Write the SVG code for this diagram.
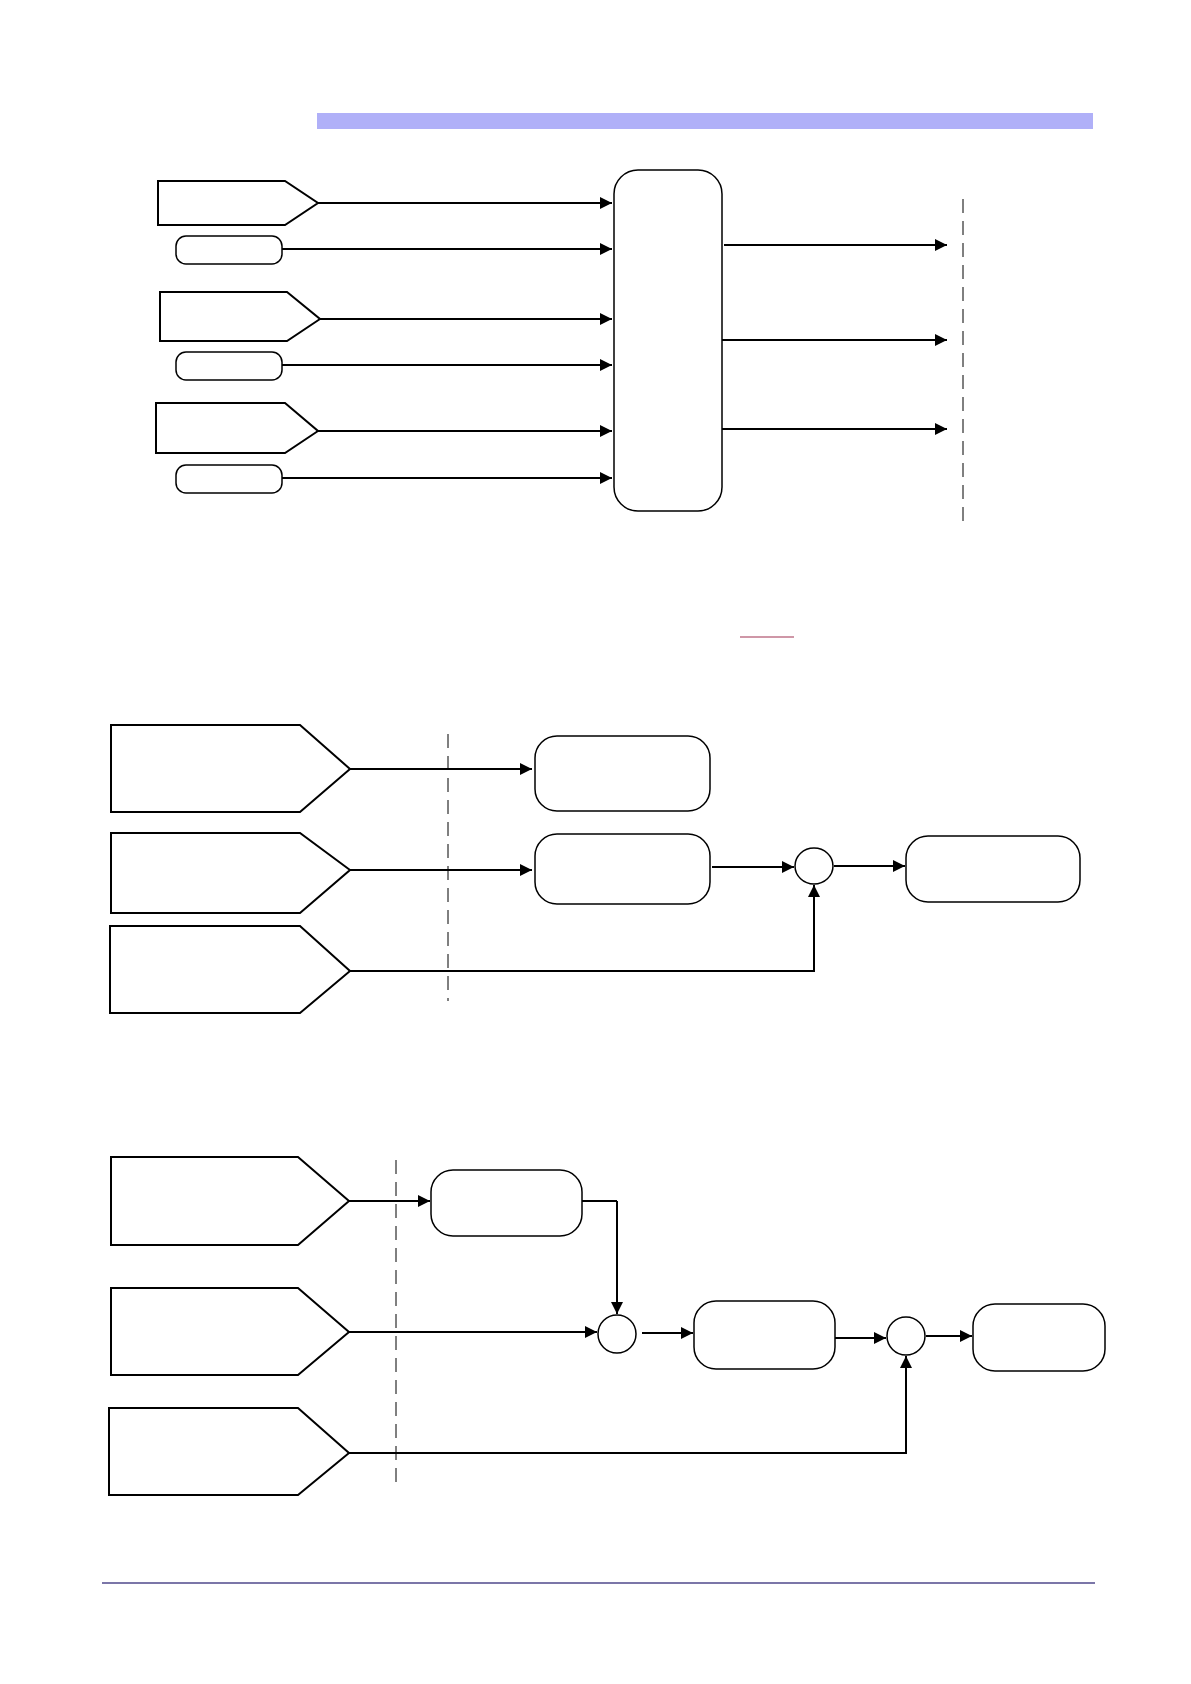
<svg xmlns="http://www.w3.org/2000/svg" width="1191" height="1684" viewBox="0 0 1191 1684">
<style>
.s{fill:#fff;stroke:#000;stroke-width:2}
.t{fill:#fff;stroke:#000;stroke-width:1.5}
.c{fill:none;stroke:#000;stroke-width:2}
.d{fill:none;stroke:#000;stroke-width:1;stroke-dasharray:14,8}
</style>
<defs>
<marker id="a" viewBox="0 0 10 10" refX="10" refY="5" markerWidth="6" markerHeight="6" orient="auto" markerUnits="strokeWidth"><path d="M0,0L10,5L0,10z"/></marker>
</defs>
<rect x="317" y="113" width="776" height="16" fill="#b0b0f8"/>
<g id="p1"><path class="s" d="M158,181H285L318,203L285,225H158Z"/></g>
<g id="r1"><rect class="t" x="176" y="236" width="106" height="28" rx="10"/></g>
<g id="p2"><path class="s" d="M160,292H287L320,319L287,341H160Z"/></g>
<g id="r2"><rect class="t" x="176" y="352" width="106" height="28" rx="10"/></g>
<g id="p3"><path class="s" d="M156,403H285L318,431L285,453H156Z"/></g>
<g id="r3"><rect class="t" x="176" y="465" width="106" height="28" rx="10"/></g>
<g id="big"><rect class="t" x="614" y="170" width="108" height="341" rx="24"/></g>
<g id="pa"><path class="s" d="M111,725H300L350,769L300,812H111Z"/></g>
<g id="pb"><path class="s" d="M111,833H300L350,870L300,913H111Z"/></g>
<g id="pc"><path class="s" d="M110,926H300L350,971L300,1013H110Z"/></g>
<g id="b1"><rect class="t" x="535" y="736" width="175" height="75" rx="22"/></g>
<g id="b2"><rect class="t" x="535" y="834" width="175" height="70" rx="22"/></g>
<g id="o1"><ellipse class="t" cx="814" cy="866" rx="19" ry="18"/></g>
<g id="b3"><rect class="t" x="906" y="836" width="174" height="66" rx="22"/></g>
<g id="pd"><path class="s" d="M111,1157H298L349,1201L298,1245H111Z"/></g>
<g id="pe"><path class="s" d="M111,1288H298L349,1332L298,1375H111Z"/></g>
<g id="pf"><path class="s" d="M109,1408H298L349,1453L298,1495H109Z"/></g>
<g id="bd"><rect class="t" x="431" y="1170" width="151" height="66" rx="22"/></g>
<g id="o2"><ellipse class="t" cx="617" cy="1334" rx="19" ry="19"/></g>
<g id="be"><rect class="t" x="694" y="1301" width="141" height="68" rx="22"/></g>
<g id="o3"><ellipse class="t" cx="906" cy="1336" rx="19" ry="19"/></g>
<g id="bf"><rect class="t" x="973" y="1304" width="132" height="67" rx="22"/></g>
<g id="connectors">
<path class="c" marker-end="url(#a)" d="M318,203H612"/>
<path class="c" marker-end="url(#a)" d="M282,249H612"/>
<path class="c" marker-end="url(#a)" d="M320,319H612"/>
<path class="c" marker-end="url(#a)" d="M282,365H612"/>
<path class="c" marker-end="url(#a)" d="M318,431H612"/>
<path class="c" marker-end="url(#a)" d="M282,478H612"/>
<path class="c" marker-end="url(#a)" d="M724,245H947"/>
<path class="c" marker-end="url(#a)" d="M722,340H947"/>
<path class="c" marker-end="url(#a)" d="M722,429H947"/>
<path class="d" d="M963,199V523"/>
<path class="c" marker-end="url(#a)" d="M350,769H532"/>
<path class="c" marker-end="url(#a)" d="M350,870H532"/>
<path class="c" marker-end="url(#a)" d="M712,867H794"/>
<path class="c" marker-end="url(#a)" d="M834,866H905"/>
<path class="c" d="M350,971H814"/>
<path class="c" stroke-width="1.5" marker-end="url(#a)" d="M814,972V885"/>
<path class="d" d="M448,734V1001"/>
<path class="c" marker-end="url(#a)" d="M349,1201H430"/>
<path class="c" d="M582,1201H617"/>
<path class="c" stroke-width="1.5" marker-end="url(#a)" d="M617,1201V1314"/>
<path class="c" marker-end="url(#a)" d="M349,1332H597"/>
<path class="c" marker-end="url(#a)" d="M642,1333H693"/>
<path class="c" marker-end="url(#a)" d="M835,1338H886"/>
<path class="c" marker-end="url(#a)" d="M926,1336H972"/>
<path class="c" d="M349,1453H906"/>
<path class="c" stroke-width="1.5" marker-end="url(#a)" d="M906,1454V1356"/>
<path class="d" d="M396,1160V1487"/>
</g>
<line x1="740" y1="637" x2="794" y2="637" stroke="#a03050" stroke-width="1.2"/>
<line x1="102" y1="1583" x2="1095" y2="1583" stroke="#7b76a8" stroke-width="2"/>
</svg>
